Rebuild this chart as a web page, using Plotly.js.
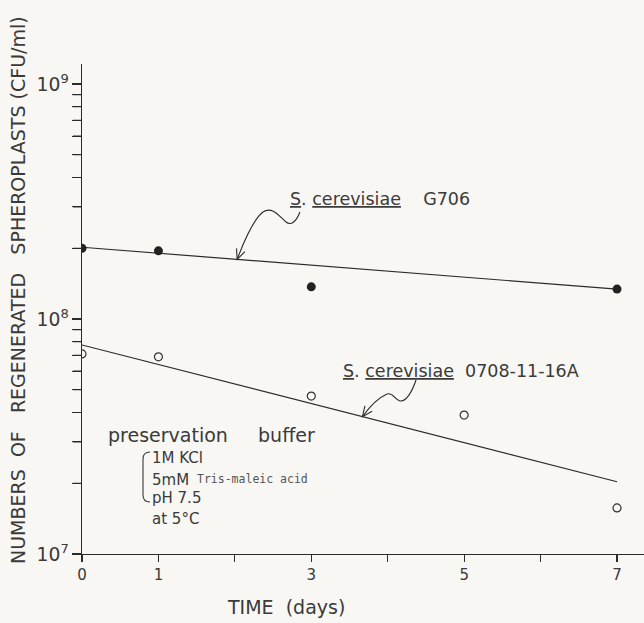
<!DOCTYPE html>
<html>
<head>
<meta charset="utf-8">
<script src="https://cdn.plot.ly/plotly-3.0.1.min.js"></script>
<style>
  html, body { margin: 0; padding: 0; background: #f8f7f3; }
  #chart { width: 644px; height: 623px; }
</style>
</head>
<body>
<div id="chart"></div>
<script>
// ---- data ----
const daysG706 = [0, 1, 3, 7];
const cfuG706 = [2.0e8, 1.95e8, 1.37e8, 1.34e8];

const days16A = [0, 1, 3, 5, 7];
const cfu16A = [7.1e7, 6.9e7, 4.7e7, 3.9e7, 1.57e7];

const fitDays = [0, 7];
const fitG706 = [2.02e8, 1.34e8];
const fit16A = [7.75e7, 2.03e7];

const xTickVals = [0, 1, 3, 5, 7];
const xTickText = ['0', '1', '3', '5', '7'];

const yMinorVals = [2e7, 3e7, 4e7, 5e7, 6e7, 7e7, 8e7, 9e7,
                    2e8, 3e8, 4e8, 5e8, 6e8, 7e8, 8e8, 9e8];

// ---- layout geometry ----
const W = 644, H = 623;
const M = {l: 82, r: 0, t: 64, b: 69};
const PW = W - M.l - M.r, PH = H - M.t - M.b;
const xRange = [0, 7.353];
const yRange = [7, 9.085];

const ink = '#2b2b2b';
const txt = '#3a3a3a';
const sans = 'DejaVu Sans, Liberation Sans, sans-serif';

const px = x => (x - M.l) / PW;
const py = y => (M.t + PH - y) / PH;
const yPaper = v => (Math.log10(v) - yRange[0]) / (yRange[1] - yRange[0]);
const pxPerDay = PW / (xRange[1] - xRange[0]);
function dataToPix(d, v) {
  return [M.l + (d - xRange[0]) * pxPerDay, M.t + PH - yPaper(v) * PH];
}
function fitAt(days, vals, d) {
  const t = (d - days[0]) / (days[1] - days[0]);
  return Math.pow(10, Math.log10(vals[0]) + t * (Math.log10(vals[1]) - Math.log10(vals[0])));
}
function pathPaper(pts) {
  return pts.map(p => p[0] + ' ' + p.slice(1).reduce((acc, v, i) => {
    acc.push(i % 2 === 0 ? px(v).toFixed(5) : py(v).toFixed(5)); return acc;
  }, []).join(',')).join(' ');
}
function arrowHead(tip, from, len, ang) {
  const dx = from[0] - tip[0], dy = from[1] - tip[1];
  const n = Math.hypot(dx, dy), ux = dx / n, uy = dy / n;
  const rot = (a) => [tip[0] + len * (ux * Math.cos(a) - uy * Math.sin(a)),
                      tip[1] + len * (ux * Math.sin(a) + uy * Math.cos(a))];
  const a = rot(ang), b = rot(-ang);
  return pathPaper([['M', a[0], a[1]], ['L', tip[0], tip[1]], ['L', b[0], b[1]]]);
}

const tipG = dataToPix(2.03, fitAt(fitDays, fitG706, 2.03));
const tipA = dataToPix(3.67, fitAt(fitDays, fit16A, 3.67));

const minorTickPath = pathPaper(yMinorVals.flatMap(v => {
  const yPix = M.t + PH - yPaper(v) * PH;
  return [['M', M.l - 9, yPix], ['L', M.l, yPix]];
}));

const lineStyle = {color: ink, width: 1.1};
const shapes = [
  {type: 'path', xref: 'paper', yref: 'paper', line: lineStyle,
   path: pathPaper([['M', 300, 212], ['C', 296, 222, 291, 226, 286, 222],
                    ['C', 279, 216, 272, 206, 263, 212],
                    ['C', 255, 218, 246, 236, tipG[0], tipG[1]]])},
  {type: 'path', xref: 'paper', yref: 'paper', line: lineStyle,
   path: arrowHead(tipG, [246, 236], 11, 0.42)},
  {type: 'path', xref: 'paper', yref: 'paper', line: lineStyle,
   path: pathPaper([['M', 416, 380], ['C', 412, 392, 406, 402, 400, 401],
                    ['C', 395, 400, 393, 392, 387, 394],
                    ['C', 378, 398, 370, 406, tipA[0], tipA[1]]])},
  {type: 'path', xref: 'paper', yref: 'paper', line: lineStyle,
   path: arrowHead(tipA, [372, 404], 11, 0.42)},
  {type: 'path', xref: 'paper', yref: 'paper', line: {color: txt, width: 1.1},
   path: pathPaper([['M', 150, 452], ['Q', 143, 452, 143, 459], ['L', 143, 495],
                    ['Q', 143, 502, 150, 502]])},
  {type: 'path', xref: 'paper', yref: 'paper', layer: 'above', line: {color: ink, width: 1.2},
   path: minorTickPath}
];

const ann = (x, y, text, size, extra) => Object.assign({
  xref: 'paper', yref: 'paper', x: px(x), y: py(y), text: text,
  showarrow: false, xanchor: 'left', yanchor: 'middle',
  font: {family: sans, size: size, color: txt}
}, extra || {});

const annotations = [
  ann(288, 199, '<u>S</u>. <u>cerevisiae</u>    G706', 17.5),
  ann(341, 371, '<u>S</u>. <u>cerevisiae</u>  0708-11-16A', 17.5),
  ann(106, 435, 'preservation     buffer', 19),
  ann(150, 458, '1M KCl', 15),
  ann(150, 480, '5mM', 15),
  ann(195, 479, 'Tris-maleic acid', 11.5, {font: {family: 'DejaVu Sans Mono, Liberation Mono, monospace', size: 11.5, color: '#555'}}),
  ann(150, 498, 'pH 7.5', 15),
  ann(150, 519, 'at 5°C', 15),
  ann(18, 290, 'NUMBERS  OF   REGENERATED   SPHEROPLASTS (CFU/ml)', 19,
      {xanchor: 'center', yanchor: 'middle', textangle: -90}),
  ann(286, 607, 'TIME  (days)', 19, {xanchor: 'center'})
];

const traces = [
  {x: fitDays, y: fitG706, mode: 'lines', line: {color: ink, width: 1.2}, hoverinfo: 'skip'},
  {x: fitDays, y: fit16A, mode: 'lines', line: {color: ink, width: 1.2}, hoverinfo: 'skip'},
  {x: daysG706, y: cfuG706, mode: 'markers',
   marker: {symbol: 'circle', size: 9, color: '#222', line: {width: 0}}},
  {x: days16A, y: cfu16A, mode: 'markers',
   marker: {symbol: 'circle-open', size: 8, color: '#333', line: {width: 1.2, color: '#333'}}}
];

const layout = {
  width: W, height: H,
  margin: M,
  paper_bgcolor: '#f8f7f3', plot_bgcolor: '#f8f7f3',
  showlegend: false,
  xaxis: {
    range: xRange, showgrid: false, zeroline: false,
    showline: true, linecolor: ink, linewidth: 1.2,
    ticks: 'outside', ticklen: 7, tickwidth: 1.2, tickcolor: ink,
    tickmode: 'array', tickvals: xTickVals, ticktext: xTickText,
    tickfont: {family: sans, size: 15, color: txt},
    minor: {ticks: 'outside', ticklen: 7, tickwidth: 1.2, tickcolor: ink, dtick: 1, tick0: 0, showgrid: false}
  },
  yaxis: {
    type: 'log', range: yRange, showgrid: false, zeroline: false,
    showline: true, linecolor: ink, linewidth: 1.2,
    ticks: 'outside', ticklen: 9, tickwidth: 1.2, tickcolor: ink,
    tickmode: 'linear', tick0: 0, dtick: 1,
    exponentformat: 'power', showexponent: 'all',
    tickfont: {family: sans, size: 15, color: txt},
    minor: {ticks: 'outside', ticklen: 9, tickwidth: 1.2, tickcolor: ink, dtick: 'D1', showgrid: false}
  },
  shapes: shapes,
  annotations: annotations
};

Plotly.newPlot('chart', traces, layout, {displayModeBar: false, staticPlot: true});
</script>
</body>
</html>
